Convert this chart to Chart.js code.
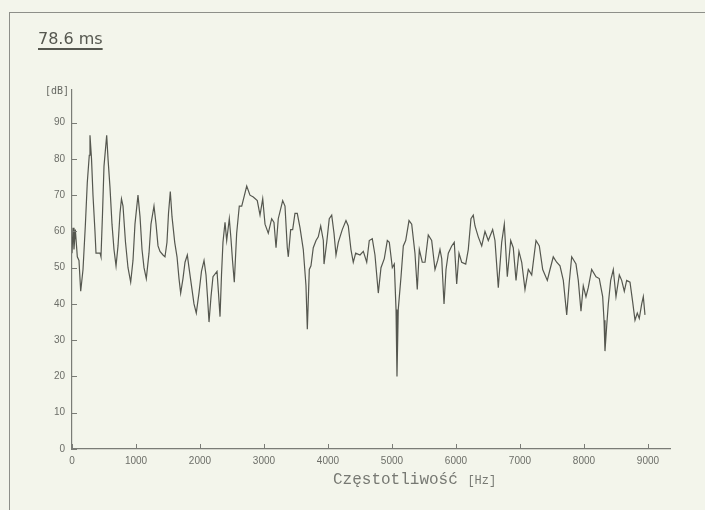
<!DOCTYPE html>
<html>
<head>
<meta charset="utf-8">
<script src="https://cdn.jsdelivr.net/npm/chart.js@4.4.1/dist/chart.umd.min.js"></script>
<style>
html, body { margin: 0; padding: 0; background: #f3f5eb; }
#wrap { position: relative; width: 705px; height: 510px; overflow: hidden; }
#frame { position: absolute; left: 9px; top: 12px; width: 800px; height: 600px;
  border-top: 1px solid #8d8f89; border-left: 1px solid #8d8f89; }
#title { position: absolute; left: 38px; top: 29px; font: 16px "DejaVu Sans", sans-serif; color: #55574f;
  text-decoration: underline; text-underline-offset: 4px; text-decoration-thickness: 1.5px; }
#unit { position: absolute; left: 45px; top: 85px; font: 10px "DejaVu Sans Mono", monospace; color: #666862; }
#xlabel { position: absolute; left: 333px; top: 471px; font: 16px "Liberation Mono", monospace; color: #777973; }
#xlabel small { font-size: 12px; }
canvas { position: absolute; left: 0; top: 0; }
</style>
</head>
<body>
<div id="wrap">
  <div id="frame"></div>
  <canvas id="spectrum" width="705" height="510"></canvas>
  <div id="title">78.6 ms</div>
  <div id="unit">[dB]</div>
  <div id="xlabel">Częstotliwość <small>[Hz]</small></div>
</div>
<script>
// spectrum: frequency [Hz] and level [dB]
const freqHz = [
  0, 16, 31, 52, 83, 109, 136, 172, 208, 239, 270, 281, 305, 328, 359, 375, 438, 453, 477, 500,
  542, 563, 594, 625, 656, 688, 719, 750, 773, 797, 836, 875, 917, 953, 984, 1031, 1063, 1094, 1125, 1161,
  1203, 1234, 1281, 1313, 1344, 1375, 1422, 1453, 1484, 1508, 1536, 1563, 1605, 1641, 1672, 1698, 1734, 1766, 1802, 1828,
  1875, 1906, 1942, 1984, 2023, 2063, 2094, 2117, 2141, 2172, 2203, 2266, 2289, 2313, 2336, 2359, 2391, 2417, 2458, 2484,
  2508, 2536, 2573, 2614, 2652, 2730, 2781, 2833, 2895, 2938, 2980, 3016, 3067, 3120, 3156, 3188, 3223, 3292, 3328, 3364,
  3380, 3417, 3448, 3484, 3520, 3563, 3614, 3656, 3677, 3708, 3734, 3770, 3813, 3848, 3886, 3927, 3938, 3980, 4020, 4058,
  4094, 4125, 4161, 4223, 4281, 4317, 4359, 4395, 4433, 4500, 4552, 4605, 4645, 4692, 4734, 4786, 4828, 4880, 4927, 4958,
  5005, 5036, 5063, 5078, 5098, 5141, 5177, 5214, 5266, 5308, 5359, 5395, 5427, 5473, 5516, 5567, 5620, 5672, 5714, 5750,
  5777, 5813, 5844, 5880, 5933, 5973, 6011, 6047, 6089, 6152, 6192, 6234, 6270, 6297, 6348, 6402, 6453, 6505, 6573, 6609,
  6661, 6714, 6755, 6802, 6855, 6895, 6938, 6984, 7027, 7078, 7130, 7183, 7250, 7302, 7355, 7427, 7469, 7520, 7573, 7625,
  7677, 7730, 7770, 7808, 7875, 7911, 7953, 7989, 8031, 8067, 8120, 8188, 8239, 8292, 8313, 8328, 8355, 8380, 8417, 8458,
  8500, 8552, 8589, 8630, 8667, 8719, 8761, 8797, 8833, 8864, 8902, 8927, 8953
];
const levelDb = [
  54, 61, 55, 60.5, 53, 52, 43.5, 49.5, 61.5, 73.5, 81, 86.5, 80, 70, 60, 54, 54, 53, 65, 78,
  86.5, 80, 72, 62, 55, 50.5, 56, 65, 69, 67, 57, 50, 46, 52, 62, 70, 64, 55, 50, 47,
  54, 62, 67, 62, 56, 54.5, 53.5, 53, 57, 65, 71, 64, 57, 53, 47, 43, 47, 51.5, 53.5, 50,
  44, 40, 37.5, 43, 49, 52, 48, 42, 35, 42, 47.5, 49, 43, 36.5, 48, 57, 62.5, 57.5, 63.5, 58,
  52, 46, 59.5, 67, 67, 72.5, 70, 69.5, 68.5, 64.5, 69, 62, 59.5, 63.5, 62.5, 55.5, 63.5, 68.5, 67, 55.5,
  53, 60.5, 60.5, 65, 65, 61, 55, 45, 33, 49.5, 50.5, 55.5, 57.5, 58.5, 61.5, 57.5, 51, 57, 63.5, 64.5,
  59.5, 53.5, 57, 60.5, 63, 61.5, 55, 51.5, 54, 53.5, 54.5, 51.5, 57.5, 58, 53.5, 43, 50, 52.5, 57.5, 57,
  50, 51, 38.5, 20, 38.5, 47.5, 56, 57.5, 63, 62, 54, 44, 55, 51.5, 51.5, 59, 57.5, 49.5, 52, 55,
  52.5, 40, 49.5, 54, 56, 57, 45.5, 54, 51.5, 51, 55, 63.5, 64.5, 61.5, 58.5, 56, 60, 57.5, 60.5, 57.5,
  44.5, 57, 62, 47.5, 57.5, 55.5, 46.5, 54.5, 51.5, 44, 49.5, 48, 57.5, 56, 49.5, 46.5, 49.5, 53, 51.5, 50.5,
  46.5, 37, 46, 53, 51, 46.5, 38, 45, 42, 44.5, 49.5, 47.5, 47, 42, 35.5, 27, 34, 40, 46.5, 49.5,
  42, 48, 46.5, 43.5, 46.5, 46, 40.5, 35.5, 37.5, 36, 40, 42, 37
];
const xTicks = [0, 1000, 2000, 3000, 4000, 5000, 6000, 7000, 8000, 9000];
const yTicks = [0, 10, 20, 30, 40, 50, 60, 70, 80, 90];

const axisColor = '#7a7c76';
const tickFont = { family: 'Liberation Sans', size: 10 };

// tick marks point into the plot, as in the original
const innerTicks = {
  id: 'innerTicks',
  afterDatasetsDraw(chart) {
    const { ctx, chartArea, scales: { x, y } } = chart;
    ctx.save();
    ctx.strokeStyle = axisColor;
    ctx.lineWidth = 1;
    ctx.beginPath();
    x.ticks.forEach(t => {
      const px = Math.round(x.getPixelForValue(t.value)) + 0.5;
      ctx.moveTo(px, chartArea.bottom);
      ctx.lineTo(px, chartArea.bottom - 5);
    });
    y.ticks.forEach(t => {
      const py = Math.round(y.getPixelForValue(t.value)) + 0.5;
      ctx.moveTo(chartArea.left, py);
      ctx.lineTo(chartArea.left + 5, py);
    });
    ctx.stroke();
    ctx.restore();
  }
};

new Chart(document.getElementById('spectrum'), {
  type: 'line',
  data: {
    datasets: [{
      data: freqHz.map((f, i) => ({ x: f, y: levelDb[i] })),
      borderColor: '#55574f',
      borderWidth: 1.2,
      pointRadius: 0,
      tension: 0,
      fill: false
    }]
  },
  options: {
    responsive: false,
    animation: false,
    devicePixelRatio: 1,
    layout: { padding: { top: 90, right: 35, bottom: 0, left: 0 } },
    scales: {
      x: {
        type: 'linear',
        min: 0,
        max: 9344,
        afterBuildTicks: s => { s.ticks = xTicks.map(v => ({ value: v })); },
        afterFit: s => { s.height = 61; },
        grid: { display: false, drawTicks: false },
        border: { display: true, color: axisColor, width: 1.2 },
        ticks: { color: '#6c6e68', font: tickFont, padding: 6, maxRotation: 0, callback: v => String(v) }
      },
      y: {
        min: 0,
        max: 99,
        afterBuildTicks: s => { s.ticks = yTicks.map(v => ({ value: v })); },
        afterFit: s => { s.width = 72; },
        grid: { display: false, drawTicks: false },
        border: { display: true, color: axisColor, width: 1.2 },
        ticks: { color: '#6c6e68', font: tickFont, padding: 7, callback: v => String(v) }
      }
    },
    plugins: {
      legend: { display: false },
      tooltip: { enabled: false }
    }
  },
  plugins: [innerTicks]
});
</script>
</body>
</html>
